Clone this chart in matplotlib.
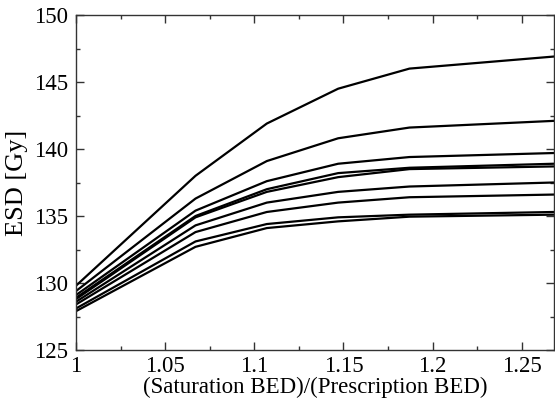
import matplotlib
matplotlib.use("Agg")
import matplotlib.pyplot as plt
from matplotlib.ticker import MultipleLocator

# ratio of saturation BED to prescription BED
ratio = [1.0, 1.067, 1.107, 1.147, 1.187, 1.268]

# ESD [Gy] curves, top to bottom
esd_1 = [129.8, 138.0, 141.9, 144.5, 146.0, 146.9]
esd_2 = [129.4, 136.3, 139.1, 140.8, 141.6, 142.1]
esd_3 = [129.1, 135.4, 137.6, 138.9, 139.4, 139.7]
esd_4 = [128.9, 135.0, 137.0, 138.2, 138.6, 138.9]
esd_5 = [128.8, 134.9, 136.8, 137.9, 138.5, 138.7]
esd_6 = [128.6, 134.3, 136.0, 136.8, 137.2, 137.5]
esd_7 = [128.4, 133.8, 135.3, 136.0, 136.4, 136.6]
esd_8 = [128.1, 133.1, 134.4, 134.9, 135.1, 135.3]
esd_9 = [127.9, 132.7, 134.1, 134.6, 134.95, 135.1]

curves = [esd_1, esd_2, esd_3, esd_4, esd_5, esd_6, esd_7, esd_8, esd_9]

plt.rcParams['font.family'] = ['Liberation Serif', 'DejaVu Serif']

fig = plt.figure(figsize=(5.55, 4.0), dpi=100)
ax = fig.add_axes([0.137, 0.125, 0.861, 0.8375])

for c in curves:
    ax.plot(ratio, c, color='black', linewidth=1.6)

ax.set_xlim(1.0, 1.268)
ax.set_ylim(125, 150)
ax.xaxis.set_minor_locator(MultipleLocator(0.025))
ax.yaxis.set_major_locator(MultipleLocator(5))
ax.yaxis.set_minor_locator(MultipleLocator(2.5))
ax.set_xticks([1, 1.05, 1.1, 1.15, 1.2, 1.25])
ax.set_xticklabels(['1', '1.05', '1.1', '1.15', '1.2', '1.25'])

ax.tick_params(which='both', direction='in', top=True, right=True,
               labelsize=16.5, width=1.0, colors='#333333', labelcolor='black')
ax.tick_params(which='major', length=6, pad=4)
ax.tick_params(which='minor', length=3)
ax.tick_params(axis='y', which='major', pad=6)
for s in ax.spines.values():
    s.set_linewidth(1.0)
    s.set_color('#333333')

ax.set_xlabel('(Saturation BED)/(Prescription BED)', fontsize=16.5, labelpad=0)
ax.set_ylabel('ESD [Gy]', fontsize=19, labelpad=4)

fig.savefig('out.png', dpi=100)
